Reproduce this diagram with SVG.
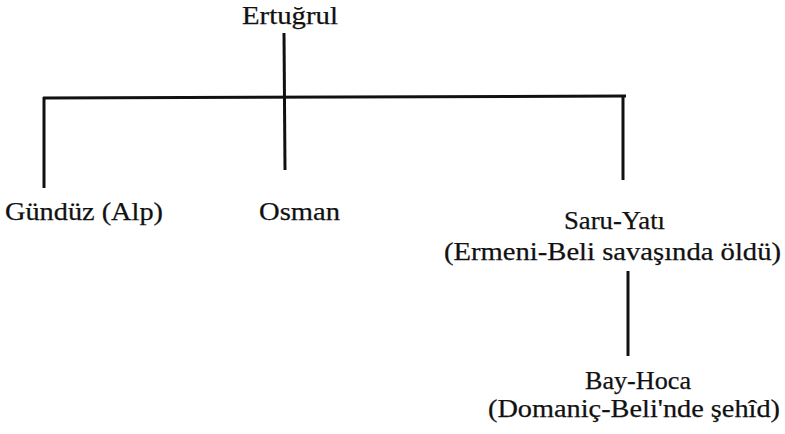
<svg xmlns="http://www.w3.org/2000/svg" width="785" height="434" viewBox="0 0 785 434">
<style>
text{font-family:"Liberation Serif","Times New Roman",serif;font-size:26px;fill:#111;stroke:#111;stroke-width:0.25px;}
.ln{stroke:#111;stroke-width:3;fill:none;stroke-linecap:butt;}
</style>
<rect width="785" height="434" fill="#fff"/>
<g id="connectors">
<line class="ln" x1="284" y1="33" x2="285" y2="170"/>
<line class="ln" x1="43" y1="98" x2="626" y2="96"/>
<line class="ln" x1="44" y1="97" x2="44" y2="188"/>
<line class="ln" x1="623" y1="96" x2="623" y2="180"/>
<line class="ln" x1="628" y1="271" x2="628" y2="356"/>
</g>
<g id="ertugrul"><text x="242" y="24" textLength="96" lengthAdjust="spacingAndGlyphs">Ertuğrul</text></g>
<g id="gunduz"><text x="5" y="220" textLength="158" lengthAdjust="spacingAndGlyphs">Gündüz (Alp)</text></g>
<g id="osman"><text x="259" y="220" textLength="81" lengthAdjust="spacingAndGlyphs">Osman</text></g>
<g id="saru-yati"><text x="564" y="229" textLength="101" lengthAdjust="spacingAndGlyphs">Saru-Yatı</text><text x="444" y="260" textLength="337" lengthAdjust="spacingAndGlyphs">(Ermeni-Beli savaşında öldü)</text></g>
<g id="bay-hoca"><text x="585" y="389" textLength="106" lengthAdjust="spacingAndGlyphs">Bay-Hoca</text><text x="488" y="417" textLength="292" lengthAdjust="spacingAndGlyphs">(Domaniç-Beli'nde şehîd)</text></g>
</svg>
